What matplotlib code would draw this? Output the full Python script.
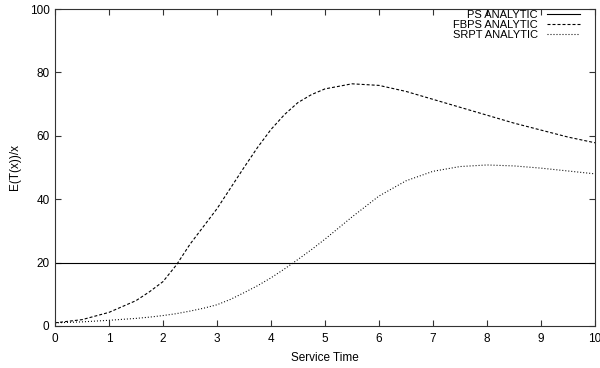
import numpy as np
import matplotlib
matplotlib.use('Agg')
import matplotlib.pyplot as plt

# curves
service_time = [0, 0.5, 1, 1.5, 1.75, 2, 2.25, 2.5, 2.75, 3, 3.25, 3.5, 3.75, 4, 4.25, 4.5, 4.75,
                5, 5.5, 6, 6.5, 7, 7.5, 8, 8.5, 9, 9.5, 10]
ps_analytic = [20] * len(service_time)
fbps_analytic = [1.0, 2.0, 4.3, 8.0, 10.8, 14.0, 19.3, 25.8, 31.4, 37.0, 43.5, 50.0, 56.3, 62.0,
                 66.7, 70.5, 73.0, 74.8, 76.4, 75.9, 74.0, 71.5, 69.0, 66.5, 64.0, 61.8, 59.6, 57.8]
srpt_analytic = [1.0, 1.3, 1.8, 2.4, 2.8, 3.3, 3.9, 4.7, 5.6, 6.7, 8.4, 10.5, 12.7, 15.2,
                 18.0, 21.0, 24.1, 27.4, 34.4, 41.0, 45.8, 48.8, 50.3, 50.8, 50.5, 49.8, 48.9, 48.0]

plt.rcParams['font.family'] = ['Liberation Sans', 'DejaVu Sans']
plt.rcParams['font.size'] = 8.5

fig = plt.figure(figsize=(6, 3.68), dpi=100)
ax = fig.add_axes([55 / 600, 42 / 368, 540 / 600, 317 / 368])

ax.plot(service_time, ps_analytic, color='black', lw=0.8, label='PS ANALYTIC')
ax.plot(service_time, fbps_analytic, color='black', lw=0.8, dashes=(2.7, 1.8), label='FBPS ANALYTIC')
ax.plot(service_time, srpt_analytic, color='black', lw=0.8, dashes=(0.9, 1.8), label='SRPT ANALYTIC')

ax.set_xlim(0, 10)
ax.set_ylim(0, 100)
ax.set_xticks(range(0, 11))
ax.set_yticks(range(0, 101, 20))
ax.tick_params(direction='in', length=4, width=0.8, top=True, right=True, color='#333333')
ax.tick_params(axis='x', pad=5)
ax.tick_params(axis='y', pad=4)
for s in ax.spines.values():
    s.set_color('#333333')
    s.set_linewidth(0.8)

ax.set_xlabel('Service Time', labelpad=5)
ax.set_ylabel('E(T(x))/x', labelpad=6)

leg = ax.legend(loc='upper right', markerfirst=False, frameon=False, fontsize=8,
                handlelength=3.0, handletextpad=0.8, labelspacing=0.0,
                borderpad=0, borderaxespad=0, bbox_to_anchor=(0.972, 0.997))

fig.savefig('out.png', dpi=100)
